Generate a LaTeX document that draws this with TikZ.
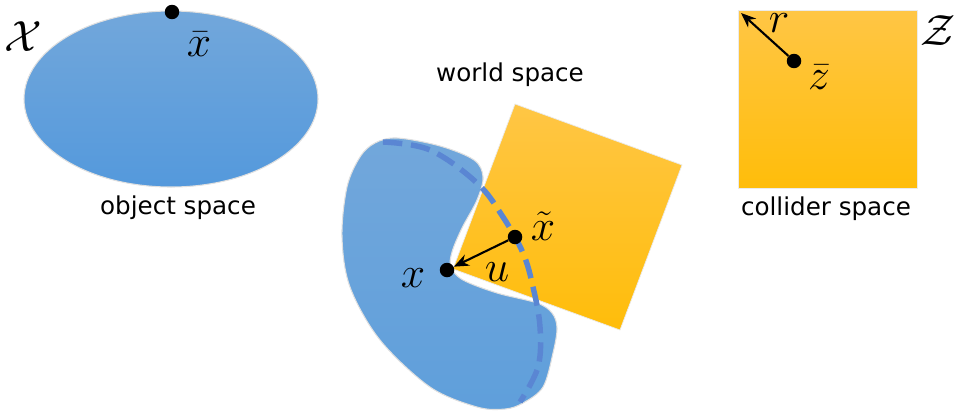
\documentclass[tikz,border=0pt]{standalone}
\usepackage{amsmath}
\usepackage{amssymb}
\usepackage{fontspec}
\setsansfont{DejaVu Sans}
\usetikzlibrary{arrows.meta, positioning}
\definecolor{blobtop}{HTML}{72A7DB}
\definecolor{blobbot}{HTML}{5499DC}
\definecolor{blobmid}{HTML}{5F9FDB}
\definecolor{dashblue}{HTML}{5A86D3}
\definecolor{boxtop}{HTML}{FFC645}
\definecolor{boxbot}{HTML}{FFBD0A}

\begin{document}
\begin{tikzpicture}[x=0.02cm, y=-0.02cm, font=\fontsize{14}{16}\selectfont\sffamily,
    mathlbl/.style={font=\fontsize{24}{28}\selectfont, inner sep=0pt},
    dot/.style={circle, fill=black, inner sep=0pt, minimum size=0.29cm},
    vec/.style={-{Stealth[length=0.3cm, width=0.24cm]}, line width=1.2pt, black}]
\useasboundingbox (0,0) rectangle (955,419);

% object space
\shade[top color=blobtop, bottom color=blobbot, draw=black!12, line width=0.6pt] (171,99) ellipse [x radius=147, y radius=88];
\node[dot] (xbar) at (172,12) {};
\node[mathlbl] (xbarlbl) at (199,44) {$\bar{x}$};
\node[mathlbl] (calX) at (23,37) {$\mathcal{X}$};
\node (objlbl) at (178,208) {object space};

% collider space
\shade[top color=boxtop, bottom color=boxbot, draw=black!8] (738,10) rectangle (917,188);
\node[dot] (zbar) at (794,61) {};
\coordinate (corner) at (741,13);
\draw[vec] (zbar) -- (corner);
\node[mathlbl] (rlbl) at (779,23) {$r$};
\node[mathlbl] (zbarlbl) at (819,77) {$\bar{z}$};
\node[mathlbl] (calZ) at (938,31) {$\mathcal{Z}$};
\node (collbl) at (826,209) {collider space};

% world space
\node (worldlbl) at (510,75) {world space};
\shade[top color=boxtop, bottom color=boxbot, draw=black!8] (515,104) -- (682,165) -- (620,330) -- (453,269) -- cycle;
\shade[top color=blobtop, bottom color=blobmid, draw=black!12, line width=0.6pt]
  plot[smooth cycle, tension=0.55] coordinates {(397,138) (440,146) (474,160) (483,177) (477,200)
    (462,228) (452,252) (451,267) (463,280) (497,293) (537,303) (552,313) (557,328) (553,353)
    (543,387) (523,403) (505,409) (477,407) (430,387) (380,340) (350,287) (342,237) (347,187)
    (360,157) (375,143)};
\draw[dashblue, line width=3.1pt, dash pattern=on 11pt off 5pt]
  plot[smooth, tension=0.6] coordinates {(383,142) (430,150) (477,183) (503,217) (523,253)
    (533,287) (540,327) (538,367) (520,402)};
\node[dot] (xt) at (515,237) {};
\node[dot] (x) at (447,270) {};
\draw[vec] (xt) -- (x);
\node[mathlbl] (xtlbl) at (543,226) {$\tilde{x}$};
\node[mathlbl] (xlbl) at (413,278) {$x$};
\node[mathlbl] (ulbl) at (497,272) {$u$};
\end{tikzpicture}
\end{document}
